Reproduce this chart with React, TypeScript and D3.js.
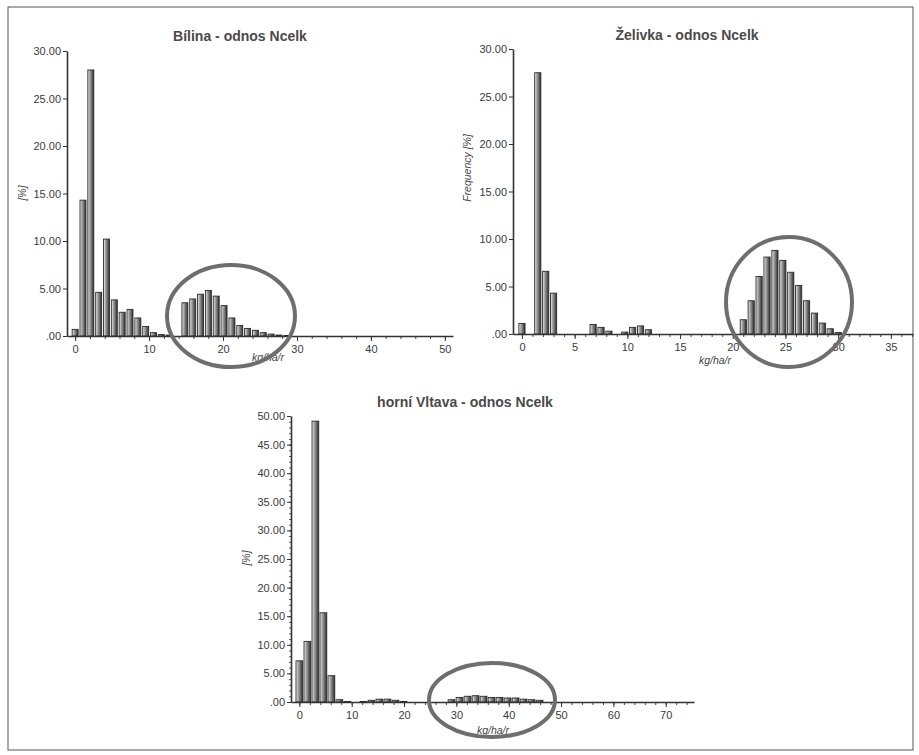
import * as d3 from "d3";
import { useEffect, useRef } from "react";

// Bílina - odnos Ncelk, frequency [%] per bin (bin width ~1.06 kg/ha/r)
const bilinaValues = [
  0.7, 14.3, 28.0, 4.6, 10.2, 3.8, 2.5, 2.8, 1.9, 1.0, 0.35, 0.15, 0.1, 0, 3.5,
  3.9, 4.4, 4.8, 4.2, 3.2, 1.9, 1.1, 0.8, 0.6, 0.35, 0.2, 0.1, 0.05,
];
const bilinaBinWidth = 1.06;

// Želivka - odnos Ncelk (bin width 0.75)
const zelivkaValues = [
  1.1, 0, 27.5, 6.6, 4.3, 0, 0, 0, 0, 1.0, 0.7, 0.3, 0, 0.2, 0.7, 0.85, 0.45, 0,
  0, 0, 0, 0, 0, 0, 0, 0, 0, 0, 1.5, 3.5, 6.05, 8.1, 8.8, 7.75, 6.5, 5.1, 3.5,
  2.2, 1.15, 0.55, 0.15,
];
const zelivkaBinWidth = 0.75;

// horní Vltava - odnos Ncelk (bin width ~1.53)
const vltavaValues = [
  7.2, 10.6, 49.1, 15.6, 4.6, 0.4, 0.1, 0, 0.1, 0.3, 0.5, 0.5, 0.3, 0.1, 0, 0, 0,
  0, 0, 0.4, 0.8, 1.0, 1.1, 1.0, 0.8, 0.8, 0.7, 0.7, 0.5, 0.4, 0.3,
];
const vltavaBinWidth = 1.53;

const bilinaXTicks = [0, 10, 20, 30, 40, 50];
const zelivkaXTicks = [0, 5, 10, 15, 20, 25, 30, 35];
const vltavaXTicks = [0, 10, 20, 30, 40, 50, 60, 70];
const yTicks30 = [0, 5, 10, 15, 20, 25, 30];
const yTicks50 = [0, 5, 10, 15, 20, 25, 30, 35, 40, 45, 50];

const WIDTH = 919;
const HEIGHT = 755;
const FONT = "'Liberation Sans', Arial, sans-serif";

const charts = [
  {
    title: "Bílina - odnos Ncelk",
    titleX: 240,
    titleY: 41,
    values: bilinaValues,
    bin: bilinaBinWidth,
    fill: 0.76,
    xDomain: [-1.1, 51.1],
    xRange: [67, 453],
    yDomain: [0, 30],
    yRange: [336, 51],
    xTicks: bilinaXTicks,
    xMinorStep: 2,
    yTicks: yTicks30,
    yMinorStep: 0,
    yLabel: "[%]",
    yLabelX: 26,
    yLabelY: 193,
    xLabel: "kg/ha/r",
    xLabelX: 268,
    xLabelY: 361,
    ellipse: { cx: 231, cy: 316, rx: 64, ry: 51 },
  },
  {
    title: "Želivka - odnos Ncelk",
    titleX: 687,
    titleY: 40,
    values: zelivkaValues,
    bin: zelivkaBinWidth,
    fill: 0.78,
    xDomain: [-0.85, 37.1],
    xRange: [513, 913],
    yDomain: [0, 30],
    yRange: [334, 49],
    xTicks: zelivkaXTicks,
    xMinorStep: 1,
    yTicks: yTicks30,
    yMinorStep: 0,
    yLabel: "Frequency [%]",
    yLabelX: 471,
    yLabelY: 168,
    xLabel: "kg/ha/r",
    xLabelX: 715,
    xLabelY: 364,
    ellipse: { cx: 789, cy: 302, rx: 63, ry: 65 },
  },
  {
    title: "horní Vltava - odnos Ncelk",
    titleX: 465,
    titleY: 407,
    values: vltavaValues,
    bin: vltavaBinWidth,
    fill: 0.84,
    xDomain: [-1.6, 75.4],
    xRange: [291, 694],
    yDomain: [0, 50],
    yRange: [702, 416],
    xTicks: vltavaXTicks,
    xMinorStep: 2,
    yTicks: yTicks50,
    yMinorStep: 1,
    yLabel: "[%]",
    yLabelX: 250,
    yLabelY: 558,
    xLabel: "kg/ha/r",
    xLabelX: 493,
    xLabelY: 734,
    ellipse: { cx: 492, cy: 700, rx: 63, ry: 37 },
  },
];

const fmtY = (d: number) => (d === 0 ? ".00" : d3.format(".2f")(d));

const App = () => {
  const svgRef = useRef<SVGSVGElement>(null);

  useEffect(() => {
    const svg = d3.select(svgRef.current);
    svg.selectAll("*").remove();

    // bar shading: light left edge, dark right side
    const defs = svg.append("defs");
    const grad = defs
      .append("linearGradient")
      .attr("id", "barGrad")
      .attr("x1", "0%")
      .attr("x2", "100%")
      .attr("y1", "0%")
      .attr("y2", "0%");
    grad.append("stop").attr("offset", "0%").attr("stop-color", "#ffffff");
    grad.append("stop").attr("offset", "25%").attr("stop-color", "#b4b4b4");
    grad.append("stop").attr("offset", "100%").attr("stop-color", "#2e2e2e");

    // page frame
    svg
      .append("rect")
      .attr("x", 8)
      .attr("y", 7)
      .attr("width", 905)
      .attr("height", 743)
      .attr("fill", "none")
      .attr("stroke", "#555")
      .attr("stroke-width", 1);

    charts.forEach((c) => {
      const x = d3.scaleLinear().domain(c.xDomain).range(c.xRange);
      const y = d3.scaleLinear().domain(c.yDomain).range(c.yRange);
      const g = svg.append("g").attr("font-family", FONT);
      const unit = x(1) - x(0);

      // bars
      g.selectAll("rect.bar")
        .data(c.values.map((v, i) => ({ v, i })).filter((d) => d.v > 0))
        .join("rect")
        .attr("class", "bar")
        .attr("x", (d) => x(d.i * c.bin) - (c.bin * c.fill * unit) / 2)
        .attr("width", c.bin * c.fill * unit)
        .attr("y", (d) => y(d.v))
        .attr("height", (d) => y(0) - y(d.v))
        .attr("fill", "url(#barGrad)")
        .attr("stroke", "#2a2a2a")
        .attr("stroke-width", 0.9);

      // minor x ticks
      const xMinor = d3.range(0, c.xDomain[1], c.xMinorStep);
      g.append("g")
        .attr("transform", `translate(0,${y(0)})`)
        .call(
          d3.axisBottom(x).tickValues(xMinor).tickSize(3).tickFormat(() => "")
        )
        .call((a) => a.select(".domain").remove())
        .selectAll("line")
        .attr("stroke", "#444");

      // x axis
      const xa = g
        .append("g")
        .attr("transform", `translate(0,${y(0)})`)
        .call(
          d3
            .axisBottom(x)
            .tickValues(c.xTicks)
            .tickSize(5)
            .tickSizeOuter(0)
            .tickPadding(4)
        );
      xa.select(".domain").attr("stroke", "#333").attr("stroke-width", 1.6);
      xa.selectAll("line").attr("stroke", "#333");
      xa.selectAll("text")
        .attr("font-family", FONT)
        .attr("font-size", 11)
        .attr("fill", "#3a3a3a");

      // minor y ticks
      if (c.yMinorStep) {
        g.append("g")
          .attr("transform", `translate(${c.xRange[0]},0)`)
          .call(
            d3
              .axisLeft(y)
              .tickValues(d3.range(0, c.yDomain[1], c.yMinorStep))
              .tickSize(2)
              .tickFormat(() => "")
          )
          .call((a) => a.select(".domain").remove())
          .selectAll("line")
          .attr("stroke", "#555");
      }

      // y axis
      const ya = g
        .append("g")
        .attr("transform", `translate(${c.xRange[0]},0)`)
        .call(
          d3
            .axisLeft(y)
            .tickValues(c.yTicks)
            .tickSize(4)
            .tickSizeOuter(0)
            .tickPadding(2)
            .tickFormat(fmtY)
        );
      ya.select(".domain").attr("stroke", "#333").attr("stroke-width", 1.6);
      ya.selectAll("line").attr("stroke", "#333");
      ya.selectAll("text")
        .attr("font-family", FONT)
        .attr("font-size", 11)
        .attr("fill", "#3a3a3a");

      // title
      g.append("text")
        .attr("x", c.titleX)
        .attr("y", c.titleY)
        .attr("text-anchor", "middle")
        .attr("font-size", 14)
        .attr("font-weight", "bold")
        .attr("fill", "#4a4a4a")
        .text(c.title);

      // axis titles
      g.append("text")
        .attr("transform", `translate(${c.yLabelX},${c.yLabelY}) rotate(-90)`)
        .attr("text-anchor", "middle")
        .attr("font-size", 10.5)
        .attr("font-style", "italic")
        .attr("fill", "#444")
        .text(c.yLabel);

      g.append("text")
        .attr("x", c.xLabelX)
        .attr("y", c.xLabelY)
        .attr("text-anchor", "middle")
        .attr("font-size", 10.5)
        .attr("font-style", "italic")
        .attr("fill", "#444")
        .text(c.xLabel);

      // hand-drawn highlight ellipse
      g.append("ellipse")
        .attr("cx", c.ellipse.cx)
        .attr("cy", c.ellipse.cy)
        .attr("rx", c.ellipse.rx)
        .attr("ry", c.ellipse.ry)
        .attr("fill", "none")
        .attr("stroke", "#6e6e6e")
        .attr("stroke-width", 4);
    });
  }, []);

  return (
    <svg
      ref={svgRef}
      width={WIDTH}
      height={HEIGHT}
      style={{ position: "absolute", left: 0, top: 0, background: "#fff" }}
    ></svg>
  );
};

export default App;
